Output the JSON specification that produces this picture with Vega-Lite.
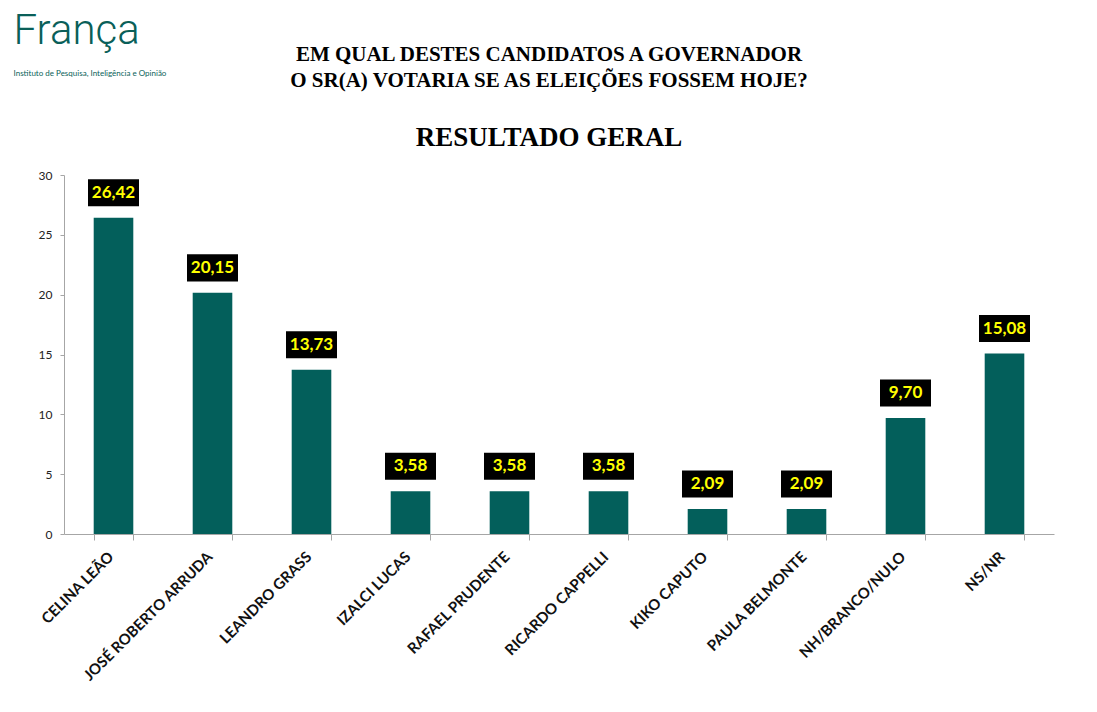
{
  "$schema": "https://vega.github.io/schema/vega-lite/v6.json",
  "width": 990,
  "height": 359,
  "autosize": {"type": "none"},
  "padding": {"left": 64, "top": 175, "right": 43, "bottom": 178},
  "background": "white",
  "config": {
    "view": {"stroke": null},
    "locale": {"number": {"decimal": ",", "thousands": ".", "grouping": [3], "currency": ["R$", ""]}}
  },
  "title": {
    "text": ["EM QUAL DESTES CANDIDATOS A GOVERNADOR", "O SR(A) VOTARIA SE AS ELEIÇÕES FOSSEM HOJE?"],
    "subtitle": "RESULTADO GERAL",
    "font": "Liberation Serif",
    "fontSize": 21,
    "fontWeight": "bold",
    "color": "black",
    "lineHeight": 26,
    "subtitleFont": "Liberation Serif",
    "subtitleFontSize": 27,
    "subtitleFontWeight": "bold",
    "subtitleColor": "black",
    "subtitlePadding": 34,
    "offset": -142,
    "anchor": "middle",
    "dx": -10
  },
  "data": {
    "values": [
      {"cand": "CELINA LEÃO", "pct": 26.42},
      {"cand": "JOSÉ ROBERTO ARRUDA", "pct": 20.15},
      {"cand": "LEANDRO GRASS", "pct": 13.73},
      {"cand": "IZALCI LUCAS", "pct": 3.58},
      {"cand": "RAFAEL PRUDENTE", "pct": 3.58},
      {"cand": "RICARDO CAPPELLI", "pct": 3.58},
      {"cand": "KIKO CAPUTO", "pct": 2.09},
      {"cand": "PAULA BELMONTE", "pct": 2.09},
      {"cand": "NH/BRANCO/NULO", "pct": 9.70},
      {"cand": "NS/NR", "pct": 15.08}
    ]
  },
  "encoding": {
    "x": {
      "field": "cand",
      "type": "nominal",
      "sort": null,
      "scale": {"paddingInner": 0.6, "paddingOuter": 0.3},
      "axis": {
        "labelAngle": -45,
        "tickBand": "extent",
        "labelFont": "Lato",
        "labelFontWeight": "bold",
        "labelFontSize": 15,
        "labelColor": "#111111",
        "labelOverlap": false,
        "labelLimit": 400,
        "labelPadding": 9,
        "labelOffset": -8,
        "domainColor": "#a6a6a6",
        "tickColor": "#a6a6a6",
        "tickSize": 6,
        "title": "Instituto de Pesquisa, Inteligência e Opinião",
        "titleX": -51,
        "titleY": -459,
        "titleAlign": "left",
        "titleBaseline": "alphabetic",
        "titleFont": "Lato",
        "titleFontSize": 8,
        "titleFontWeight": "normal",
        "titleColor": "#0a5f59"
      }
    },
    "y": {
      "field": "pct",
      "type": "quantitative",
      "scale": {"domain": [0, 30]},
      "axis": {
        "values": [0, 5, 10, 15, 20, 25, 30],
        "grid": false,
        "domainColor": "#a6a6a6",
        "tickColor": "#a6a6a6",
        "tickSize": 4,
        "labelFont": "Lato",
        "labelFontSize": 12,
        "labelColor": "#222222",
        "labelPadding": 8,
        "title": "França",
        "titleAngle": 0,
        "titleX": -51,
        "titleY": -132,
        "titleAlign": "left",
        "titleBaseline": "alphabetic",
        "titleFont": "Roboto",
        "titleFontWeight": 300,
        "titleFontSize": 42,
        "titleColor": "#0a5f59"
      }
    }
  },
  "layer": [
    {"mark": {"type": "bar", "color": "#035f5b"}},
    {
      "mark": {"type": "point", "shape": "M-1,-0.53H1V0.53H-1Z", "filled": true, "color": "black", "opacity": 1, "size": 2601, "yOffset": -25}
    },
    {
      "mark": {"type": "text", "color": "#ffff00", "font": "Lato", "fontWeight": "bold", "fontSize": 17, "yOffset": -25, "baseline": "middle"},
      "encoding": {"text": {"field": "pct", "type": "quantitative", "format": ".2f"}}
    }
  ]
}
